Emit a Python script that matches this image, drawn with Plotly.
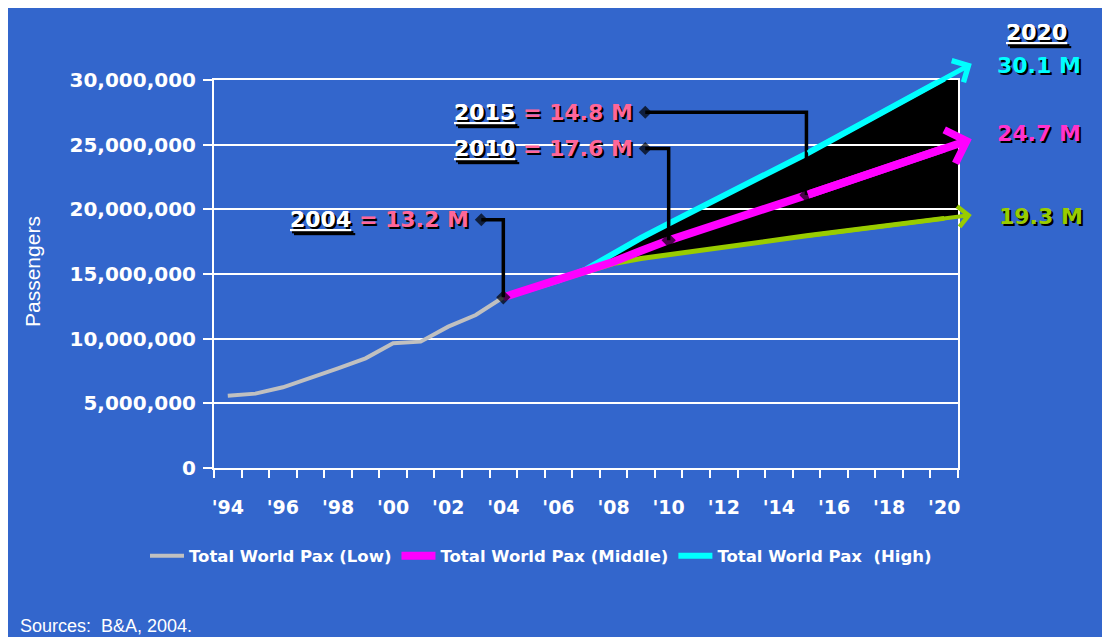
import plotly.graph_objects as go

# ---- data (passengers, millions) ----
hist_years = list(range(1994, 2005))
hist_pax = [5.59, 5.75, 6.24, 6.95, 7.7, 8.48, 9.64, 9.77, 10.93, 11.83, 13.2]

fc_years = [2004, 2006, 2007, 2008, 2009, 2010, 2015, 2020]
fc_low = [13.2, 14.5, 15.2, 15.8, 16.2, 16.5, 17.95, 19.3]
fc_mid = [13.2, 14.5, 15.2, 15.95, 16.8, 17.6, 21.1, 24.7]
fc_high = [13.2, 14.5, 15.35, 16.6, 17.8, 18.9, 24.3, 30.1]

tick_years = list(range(1994, 2021, 2))
tick_text = ["'" + str(y)[2:] for y in tick_years]

callout_years = [2004, 2010, 2015]
callout_values = ["13.2", "17.6", "14.8"]

M = 1e6

# ---- styling ----
BLUE = "#3366CC"
GREY = "#C0C0C0"
MAGENTA = "#FF00FF"
CYAN = "#00FFFF"
GREEN = "#99CC00"
PINK = "#FF6699"
LABEL_MAGENTA = "#FF33CC"
SHADOW = "2px 2px 0px #000000"

W, H = 1102, 637
ML, MR, MT, MB = 214, 144, 80, 169
PW, PH = W - ML - MR, H - MT - MB


def paper_x(px):
    return (px - ML) / PW


def paper_y(py):
    return (H - MB - py) / PH


fig = go.Figure()

# historical series
fig.add_trace(go.Scatter(
    x=hist_years, y=[v * M for v in hist_pax], mode="lines",
    name="Total World Pax (Low)", line=dict(color=GREY, width=4),
    legendrank=1))

# forecast series
fig.add_trace(go.Scatter(
    x=fc_years, y=[v * M for v in fc_low], mode="lines",
    showlegend=False, line=dict(color=GREEN, width=5)))
fig.add_trace(go.Scatter(
    x=fc_years, y=[v * M for v in fc_high], mode="lines",
    name="Total World Pax\u00a0\u00a0(High)", line=dict(color=CYAN, width=6),
    legendrank=3))
fig.add_trace(go.Scatter(
    x=fc_years, y=[v * M for v in fc_mid], mode="lines",
    name="Total World Pax (Middle)", line=dict(color=MAGENTA, width=8),
    legendrank=2))

# black band between high and low forecasts, carried to the plot edge
x_edge = 2020.5


def edge_value(vals):
    return vals[-1] + (vals[-1] - vals[-2]) / (fc_years[-1] - fc_years[-2]) * (x_edge - fc_years[-1])


top = list(zip(fc_years, fc_high)) + [(x_edge, edge_value(fc_high))]
bottom = list(zip(fc_years, fc_low)) + [(x_edge, edge_value(fc_low))]
pts = top + bottom[::-1]
band_path = "M " + " L ".join(f"{x},{v * M}" for x, v in pts) + " Z"

shapes = [
    # blue slide background (white strip at top/left)
    dict(type="rect", xref="paper", yref="paper", layer="below",
         x0=paper_x(8), x1=paper_x(W + 2), y0=paper_y(H + 2), y1=paper_y(8),
         fillcolor=BLUE, line=dict(width=0)),
    dict(type="path", xref="x", yref="y", layer="below", path=band_path,
         fillcolor="black", line=dict(width=0)),
]

# call-out connectors from labels down to the middle forecast
mid_lookup = dict(zip(fc_years, fc_mid))
callout_label_pos = [(2003.2, 19.2), (2009.15, 24.7), (2009.15, 27.5)]
annotations = []
for yr, val, (lx, ly) in zip(callout_years, callout_values, callout_label_pos):
    fig.add_trace(go.Scatter(
        x=[lx, yr, yr], y=[ly * M, ly * M, mid_lookup[yr] * M],
        mode="lines+markers", showlegend=False, hoverinfo="skip",
        line=dict(color="black", width=3.5),
        marker=dict(symbol="diamond", size=[10, 0, 11], color="black",
                    line=dict(width=0))))
    annotations.append(dict(
        x=lx, y=ly * M, xref="x", yref="y", xanchor="right", yanchor="middle",
        xshift=-10, showarrow=False,
        text=f"<u>{yr}</u><span style='color:{PINK}'> = {val} M</span>",
        font=dict(family="DejaVu Sans", size=22, color="white", weight="bold",
                  shadow=SHADOW)))

# arrowheads continuing each forecast past 2020
for vals, color, width, size in [(fc_low, GREEN, 4, 1.0),
                                 (fc_high, CYAN, 5, 0.95),
                                 (fc_mid, MAGENTA, 8, 0.85)]:
    step = (vals[-1] - vals[-2]) / (fc_years[-1] - fc_years[-2])
    annotations.append(dict(
        x=fc_years[-1] + 1.0, y=(vals[-1] + step * 1.0) * M,
        ax=fc_years[-2], ay=vals[-2] * M, xref="x", yref="y",
        axref="x", ayref="y", text="", showarrow=True,
        arrowhead=4, arrowwidth=width, arrowsize=size, arrowcolor=color,
        standoff=0))

# 2020 end values on the right
end_labels = [
    ("<u>2020</u>", "white", 1036, 32),
    (f"{fc_high[-1]:.1f} M", CYAN, 1039, 66),
    (f"{fc_mid[-1]:.1f} M", LABEL_MAGENTA, 1039, 133),
    (f"{fc_low[-1]:.1f} M", GREEN, 1041, 216),
]
for txt, col, px, py in end_labels:
    annotations.append(dict(
        x=paper_x(px), y=paper_y(py), xref="paper", yref="paper",
        xanchor="center", yanchor="middle", showarrow=False, text=txt,
        font=dict(family="DejaVu Sans", size=22, color=col, weight="bold",
                  shadow=SHADOW)))

# axis title and source note
annotations.append(dict(
    x=paper_x(32), y=paper_y(272), xref="paper", yref="paper",
    xanchor="center", yanchor="middle", showarrow=False, textangle=-90,
    text="Passengers",
    font=dict(family="Liberation Sans", size=21, color="white")))
annotations.append(dict(
    x=paper_x(18), y=paper_y(626), xref="paper", yref="paper",
    xanchor="left", yanchor="middle", showarrow=False,
    text="Sources:\u00a0\u00a0B&A, 2004.",
    font=dict(family="Liberation Sans", size=18, color="white")))

fig.update_layout(
    template="none",
    width=W, height=H,
    margin=dict(l=ML, r=MR, t=MT, b=MB, pad=0),
    paper_bgcolor="white",
    plot_bgcolor=BLUE,
    shapes=shapes,
    annotations=annotations,
    showlegend=True,
    legend=dict(orientation="h", x=paper_x(145), xanchor="left",
                y=paper_y(556), yanchor="middle", bgcolor="rgba(0,0,0,0)",
                font=dict(family="DejaVu Sans", size=16.5, color="white",
                          weight="bold"),
                itemwidth=34, traceorder="normal"),
    xaxis=dict(
        range=[1993.5, 2020.5], tickvals=tick_years, ticktext=tick_text,
        ticks="", showgrid=False, zeroline=False,
        showline=True, linecolor="white", linewidth=2, mirror=True,
        tickfont=dict(family="DejaVu Sans", size=19, color="white", weight="bold"),
        ticklabelstandoff=21,
        minor=dict(ticks="outside", tick0=1993.5, dtick=1, ticklen=8,
                   tickwidth=2, tickcolor="white", showgrid=False)),
    yaxis=dict(
        range=[0, 30 * M], tickvals=[i * 5 * M for i in range(7)],
        tickformat=",d", ticks="outside", ticklen=9, tickwidth=2,
        tickcolor="white", showgrid=True, gridcolor="white", gridwidth=2,
        zeroline=False, showline=True, linecolor="white", linewidth=2,
        mirror=True,
        tickfont=dict(family="DejaVu Sans", size=20, color="white", weight="bold"),
        ticklabelstandoff=3),
)

fig.write_html("out.html")
